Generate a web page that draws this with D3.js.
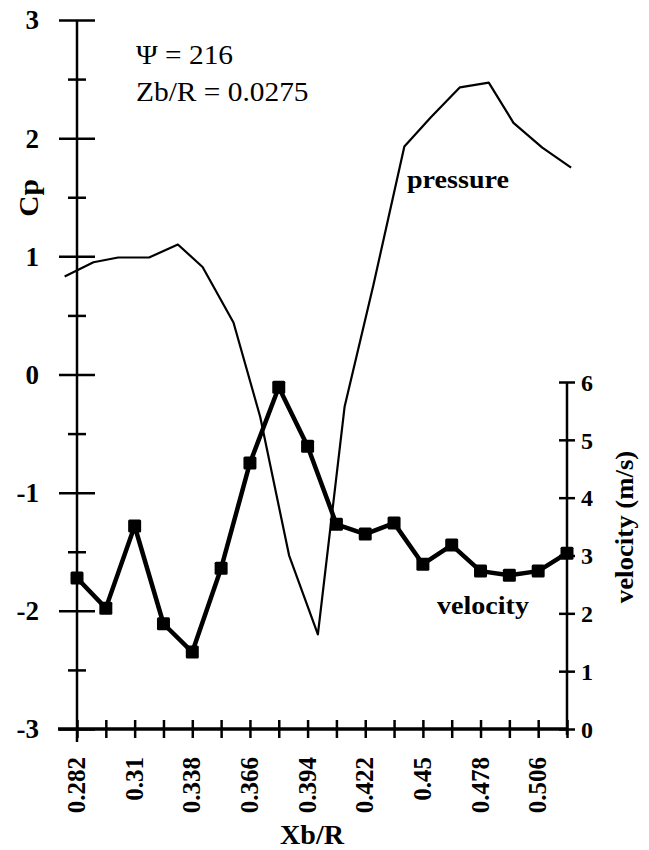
<!DOCTYPE html>
<html>
<head>
<meta charset="utf-8">
<script src="https://cdn.jsdelivr.net/npm/d3@7"></script>
<style>
body { margin: 0; background: #fff; }
svg text { font-family: "Liberation Serif", "Times New Roman", serif; font-weight: bold; fill: #000; }
.domain { stroke: #000; }
</style>
</head>
<body>
<div id="chart"></div>
<script>
// tick positions along Xb/R, labelled every other one
var xTicks = [0.282, 0.296, 0.31, 0.324, 0.338, 0.352, 0.366, 0.38, 0.394,
              0.408, 0.422, 0.436, 0.45, 0.464, 0.478, 0.492, 0.506, 0.52];
var xLabelTicks = [0.282, 0.31, 0.338, 0.366, 0.394, 0.422, 0.45, 0.478, 0.506];
var xTickLabels = ["0.282", "0.31", "0.338", "0.366", "0.394", "0.422", "0.45", "0.478", "0.506"];

var cpTicks = [-3, -2, -1, 0, 1, 2, 3];
var cpMinorTicks = [-2.5, -1.5, -0.5, 0.5, 1.5, 2.5];
var velTicks = [0, 1, 2, 3, 4, 5, 6];

// velocity (m/s), one reading per x tick
var velX = [0.282, 0.296, 0.31, 0.324, 0.338, 0.352, 0.366, 0.38, 0.394,
            0.408, 0.422, 0.436, 0.45, 0.464, 0.478, 0.492, 0.506, 0.52];
var velocity = [2.61, 2.09, 3.51, 1.82, 1.33, 2.78, 4.60, 5.91, 4.89,
                3.54, 3.37, 3.56, 2.85, 3.18, 2.73, 2.66, 2.73, 3.04];

// pressure coefficient
var presX = [0.276, 0.290, 0.302, 0.317, 0.331, 0.343, 0.358, 0.371, 0.385, 0.399,
             0.412, 0.426, 0.441, 0.454, 0.468, 0.482, 0.494, 0.508, 0.522];
var pressure = [0.83, 0.95, 0.99, 0.99, 1.10, 0.91, 0.44, -0.36, -1.53, -2.20,
                -0.27, 0.76, 1.93, 2.18, 2.43, 2.47, 2.13, 1.92, 1.75];

var width = 649, height = 850;

var svg = d3.select("#chart").append("svg")
    .attr("width", width)
    .attr("height", height);

var x = d3.scaleLinear().domain([0.282, 0.52]).range([77, 567]);
var yCp = d3.scaleLinear().domain([-3, 3]).range([729, 20]);
var yVel = d3.scaleLinear().domain([0, 6]).range([729, 382]);

function stretch(sel, k) {
    sel.each(function () {
        var w = this.getComputedTextLength();
        d3.select(this).attr("textLength", w * k).attr("lengthAdjust", "spacingAndGlyphs");
    });
}

// left Cp axis, major ticks
var leftAxis = svg.append("g")
    .attr("transform", "translate(" + x(0.282) + ",0)")
    .call(d3.axisLeft(yCp).tickValues(cpTicks).tickSize(0).tickFormat(d3.format("d")));
leftAxis.select(".domain").attr("d", "M0," + yCp(3) + "V" + (yCp(-3) + 13)).style("stroke-width", 2.5);
leftAxis.selectAll(".tick line").attr("x1", -18).attr("x2", 18).style("stroke-width", 2.5);
leftAxis.selectAll(".tick text")
    .attr("x", -38)
    .attr("dy", "0.33em")
    .style("font-size", "27px")
    .text(function (d) { return d < 0 ? "-" + Math.abs(d) : d; });

// minor ticks
var leftMinor = svg.append("g")
    .attr("transform", "translate(" + x(0.282) + ",0)")
    .call(d3.axisLeft(yCp).tickValues(cpMinorTicks).tickSize(0).tickFormat(""));
leftMinor.select(".domain").remove();
leftMinor.selectAll(".tick line").attr("x1", -9).attr("x2", 9).style("stroke-width", 2.5);

// bottom axis
var bottomAxis = svg.append("g")
    .attr("transform", "translate(0," + yCp(-3) + ")")
    .call(d3.axisBottom(x).tickValues(xTicks).tickSize(0).tickFormat(function (d) {
        var i = xLabelTicks.indexOf(d);
        return i < 0 ? "" : xTickLabels[i];
    }));
bottomAxis.select(".domain").attr("d", "M" + (x(0.282) - 19) + ",0H" + x(0.52)).style("stroke-width", 3.5);
bottomAxis.selectAll(".tick line").attr("y1", -9).attr("y2", 9).style("stroke-width", 2.5);
bottomAxis.selectAll(".tick text")
    .attr("transform", "rotate(-90)")
    .attr("text-anchor", "end")
    .attr("x", -28)
    .attr("y", 0)
    .attr("dy", "0.3em")
    .style("font-size", "25px");

// right velocity axis
var rightAxis = svg.append("g")
    .attr("transform", "translate(" + x(0.52) + ",0)")
    .call(d3.axisRight(yVel).tickValues(velTicks).tickSize(0).tickFormat(d3.format("d")));
rightAxis.select(".domain").attr("d", "M0," + yVel(6) + "V" + (yVel(0) + 6)).style("stroke-width", 2.5);
rightAxis.selectAll(".tick line").attr("x1", -8).attr("x2", 8).style("stroke-width", 2.5);
rightAxis.selectAll(".tick text")
    .attr("x", 14)
    .attr("dy", "0.34em")
    .attr("text-anchor", "start")
    .style("font-size", "24px");
rightAxis.selectAll("text").style("font-family", null);

// pressure line
var presLine = d3.line()
    .x(function (d, i) { return x(presX[i]); })
    .y(function (d) { return yCp(d); });
svg.append("path")
    .datum(pressure)
    .attr("d", presLine)
    .attr("fill", "none")
    .attr("stroke", "#000")
    .attr("stroke-width", 2.2)
    .attr("stroke-linejoin", "round");

// velocity line with square markers
var velLine = d3.line()
    .x(function (d, i) { return x(velX[i]); })
    .y(function (d) { return yVel(d); });
svg.append("path")
    .datum(velocity)
    .attr("d", velLine)
    .attr("fill", "none")
    .attr("stroke", "#000")
    .attr("stroke-width", 4.5)
    .attr("stroke-linejoin", "round");
svg.selectAll(".vmark")
    .data(velocity)
    .enter().append("rect")
    .attr("class", "vmark")
    .attr("x", function (d, i) { return x(velX[i]) - 6.5; })
    .attr("y", function (d) { return yVel(d) - 6.5; })
    .attr("width", 13)
    .attr("height", 13)
    .attr("rx", 1.5)
    .attr("fill", "#000");

// labels
svg.append("text")
    .attr("transform", "translate(38,198) rotate(-90)")
    .attr("text-anchor", "middle")
    .style("font-size", "28px")
    .text("Cp")
    .call(stretch, 1.05);

svg.append("text")
    .attr("x", 312).attr("y", 844)
    .attr("text-anchor", "middle")
    .style("font-size", "28px")
    .text("Xb/R");

svg.append("text")
    .attr("transform", "translate(633,527) rotate(-90)")
    .attr("text-anchor", "middle")
    .style("font-size", "26px")
    .text("velocity (m/s)")
    .call(stretch, 1.03);

svg.append("text")
    .attr("x", 136).attr("y", 64)
    .style("font-size", "28px")
    .style("font-weight", "normal")
    .text("\u03A8 = 216")
    .call(stretch, 1.05);

svg.append("text")
    .attr("x", 136).attr("y", 101)
    .style("font-size", "28px")
    .style("font-weight", "normal")
    .text("Zb/R = 0.0275")
    .call(stretch, 1.05);

svg.append("text")
    .attr("x", 407).attr("y", 188)
    .style("font-size", "26px")
    .text("pressure")
    .call(stretch, 1.08);

svg.append("text")
    .attr("x", 437).attr("y", 614)
    .style("font-size", "26px")
    .text("velocity")
    .call(stretch, 1.08);
</script>
</body>
</html>
